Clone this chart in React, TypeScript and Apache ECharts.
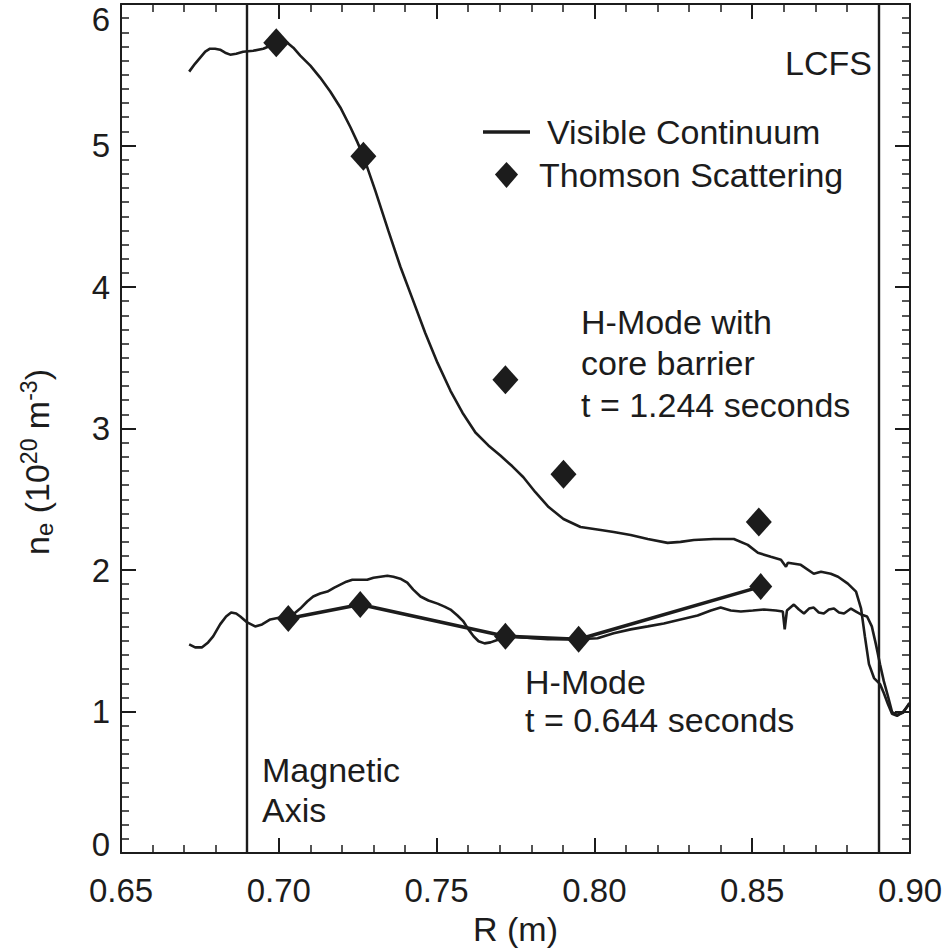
import React, { useEffect, useRef } from 'react';
import * as echarts from 'echarts';

const FONT = '"Liberation Sans", Arial, Helvetica, sans-serif';
const INK = '#1c1c1c';

// Axis ranges
const X_MIN = 0.65;
const X_MAX = 0.9;
const X_STEP = 0.05;
const Y_MIN = 0;
const Y_MAX = 6;
const Y_STEP = 1;

// Reference radii (m)
const MAGNETIC_AXIS_R = 0.6887;
const LCFS_R = 0.8908;

// Visible continuum, H-mode with core barrier, t = 1.244 s
const continuumCoreR = [
  0.6716, 0.6735, 0.6751, 0.6767, 0.6782, 0.6798, 0.6814, 0.683, 0.6846, 0.6865,
  0.6887, 0.6919, 0.6951, 0.6973, 0.6992, 0.7011, 0.7027, 0.7046, 0.7068, 0.71,
  0.7131, 0.7163, 0.7195, 0.7227, 0.7249, 0.7268, 0.7306, 0.7347, 0.7385, 0.7423,
  0.7464, 0.7503, 0.7544, 0.7582, 0.7623, 0.7664, 0.7702, 0.774, 0.7775, 0.7813,
  0.7855, 0.7902, 0.7956, 0.802, 0.8061, 0.8115, 0.8169, 0.8232, 0.8273, 0.8315,
  0.8378, 0.8442, 0.8486, 0.8518, 0.8559, 0.8591, 0.8607, 0.8613, 0.8654, 0.8695,
  0.8718, 0.8749, 0.8772, 0.8803, 0.8829, 0.8845, 0.8857, 0.887, 0.8886, 0.8905,
  0.8917, 0.893, 0.8943, 0.8959, 0.8978, 0.8998,
];
const continuumCoreNe = [
  5.522, 5.579, 5.621, 5.663, 5.684, 5.684, 5.677, 5.656, 5.642, 5.649,
  5.663, 5.67, 5.684, 5.705, 5.719, 5.733, 5.726, 5.691, 5.635, 5.565,
  5.48, 5.382, 5.269, 5.129, 5.024, 4.925, 4.679, 4.398, 4.145, 3.92,
  3.675, 3.464, 3.267, 3.112, 2.972, 2.881, 2.81, 2.733, 2.656, 2.55,
  2.445, 2.361, 2.304, 2.283, 2.269, 2.248, 2.22, 2.192, 2.199, 2.213,
  2.22, 2.22, 2.178, 2.122, 2.094, 2.073, 2.023, 2.052, 2.037, 1.974,
  1.988, 1.974, 1.953, 1.904, 1.848, 1.728, 1.532, 1.335, 1.237, 1.194,
  1.131, 1.054, 0.984, 0.97, 0.998, 1.054,
];

// Visible continuum, H-mode, t = 0.644 s
const continuumHModeR = [
  0.6716, 0.6735, 0.6757, 0.6776, 0.6792, 0.6814, 0.6833, 0.6849, 0.6865, 0.6878,
  0.69, 0.6925, 0.6947, 0.6973, 0.7004, 0.703, 0.7049, 0.7068, 0.709, 0.7109,
  0.7131, 0.7154, 0.7176, 0.7195, 0.7214, 0.7233, 0.7258, 0.728, 0.73, 0.7322,
  0.7344, 0.7363, 0.7385, 0.7407, 0.7426, 0.7449, 0.7474, 0.7503, 0.7525, 0.7544,
  0.7566, 0.7585, 0.7601, 0.7617, 0.7633, 0.7652, 0.7671, 0.769, 0.7712, 0.7734,
  0.7766, 0.7807, 0.7852, 0.7893, 0.795, 0.801, 0.8061, 0.8115, 0.8169, 0.822,
  0.8273, 0.8327, 0.8369, 0.84, 0.8432, 0.8464, 0.8502, 0.8537, 0.8575, 0.8597,
  0.8603, 0.861, 0.8632, 0.8648, 0.8664, 0.868, 0.8695, 0.8711, 0.8727, 0.8743,
  0.8759, 0.8775, 0.8791, 0.8813, 0.8829, 0.8845, 0.8864, 0.8879, 0.8892, 0.8905,
  0.8917, 0.893, 0.8943, 0.8959, 0.8978, 0.8998,
];
const continuumHModeNe = [
  1.475, 1.454, 1.454, 1.489, 1.532, 1.616, 1.672, 1.7, 1.693, 1.672,
  1.63, 1.602, 1.616, 1.651, 1.665, 1.665, 1.693, 1.728, 1.778, 1.813,
  1.834, 1.848, 1.876, 1.897, 1.918, 1.932, 1.932, 1.932, 1.946, 1.953,
  1.96, 1.953, 1.939, 1.911, 1.862, 1.813, 1.785, 1.763, 1.742, 1.721,
  1.679, 1.637, 1.581, 1.532, 1.497, 1.482, 1.489, 1.504, 1.525, 1.532,
  1.525, 1.518, 1.511, 1.511, 1.511, 1.518, 1.553, 1.581, 1.602, 1.623,
  1.651, 1.679, 1.714, 1.735, 1.714, 1.707, 1.714, 1.721, 1.714, 1.707,
  1.581, 1.714, 1.756, 1.721, 1.693, 1.728, 1.735, 1.7, 1.693, 1.721,
  1.728, 1.7, 1.693, 1.728, 1.707, 1.686, 1.672, 1.602, 1.475, 1.335,
  1.215, 1.11, 0.998, 0.977, 0.991, 1.061,
];

// Thomson scattering
const thomsonCoreR = [0.6992, 0.7268, 0.7718, 0.7902, 0.8521];
const thomsonCoreNe = [5.726, 4.925, 3.344, 2.677, 2.34];
const thomsonHModeR = [0.703, 0.7258, 0.7718, 0.795, 0.8527];
const thomsonHModeNe = [1.658, 1.756, 1.532, 1.511, 1.883];

const zip = (xs: number[], ys: number[]) => xs.map((x, i) => [x, ys[i]]);

const axisCommon = {
  axisLine: { show: true, onZero: false, lineStyle: { color: INK, width: 2 } },
  axisTick: { show: true, inside: true, length: 15, lineStyle: { color: INK, width: 2 } },
  minorTick: { show: true, length: 8, lineStyle: { color: INK, width: 1.5 } },
  splitLine: { show: false },
  minorSplitLine: { show: false },
};

const annotation = (text: string, x: number, baseline: number) => ({
  type: 'text',
  x,
  y: baseline - 12,
  silent: true,
  style: {
    text,
    fill: INK,
    fontSize: 34,
    fontFamily: FONT,
    align: 'left',
    verticalAlign: 'middle',
    textAlign: 'left',
    textVerticalAlign: 'middle',
  },
});

export default function App() {
  const ref = useRef<HTMLDivElement>(null);

  useEffect(() => {
    if (!ref.current) return;
    const chart = echarts.init(ref.current, undefined, { renderer: 'svg' });
    const option: any = {
      animation: false,
      backgroundColor: '#ffffff',
      grid: { left: 121, right: 38, top: 4, bottom: 93, containLabel: false },
      legend: {
        orient: 'vertical',
        left: 478,
        top: 110,
        itemWidth: 47,
        itemHeight: 26,
        itemGap: 9,
        selectedMode: false,
        symbolKeepAspect: true,
        textStyle: { fontSize: 34, color: INK, fontFamily: FONT },
        data: [
          {
            name: 'Visible Continuum',
            icon: 'path://M0,0 L47,0 L47,3.5 L0,3.5 Z',
            itemStyle: { color: INK },
            textStyle: { padding: [0, 0, 0, 12] },
          },
          {
            name: 'Thomson Scattering',
            icon: 'path://M12,0 L24,13 L12,27 L0,13 Z',
            itemStyle: { color: INK },
            textStyle: { padding: [0, 0, 0, 4] },
          },
        ],
      },
      xAxis: [
        {
          type: 'value',
          position: 'bottom',
          min: X_MIN,
          max: X_MAX,
          interval: X_STEP,
          ...axisCommon,
          minorTick: { ...axisCommon.minorTick, splitNumber: 5 },
          axisLabel: {
            margin: 21,
            fontSize: 33,
            color: INK,
            fontFamily: FONT,
            formatter: (v: number) => v.toFixed(2),
          },
          name: 'R (m)',
          nameLocation: 'middle',
          nameGap: 57,
          nameTextStyle: { fontSize: 34, color: INK, fontFamily: FONT },
        },
        {
          type: 'value',
          position: 'top',
          min: X_MIN,
          max: X_MAX,
          interval: X_STEP,
          ...axisCommon,
          minorTick: { ...axisCommon.minorTick, splitNumber: 5 },
          axisLabel: { show: false },
        },
      ],
      yAxis: [
        {
          type: 'value',
          position: 'left',
          min: Y_MIN,
          max: Y_MAX,
          interval: Y_STEP,
          ...axisCommon,
          minorTick: { ...axisCommon.minorTick, splitNumber: 10 },
          axisLabel: {
            margin: 11,
            fontSize: 33,
            color: INK,
            fontFamily: FONT,
            lineHeight: 18,
            padding: [6, 0, 0, 0],
            verticalAlignMaxLabel: 'top',
            verticalAlignMinLabel: 'bottom',
          },
        },
        {
          type: 'value',
          position: 'right',
          min: Y_MIN,
          max: Y_MAX,
          interval: Y_STEP,
          ...axisCommon,
          minorTick: { ...axisCommon.minorTick, splitNumber: 10 },
          axisLabel: { show: false },
        },
      ],
      graphic: [
        {
          type: 'text',
          x: 37,
          y: 462,
          rotation: Math.PI / 2,
          silent: true,
          style: {
            text: '{m|n}{s|e}{m| (10}{p|20}{m| m}{p|-3}{m|)}',
            fill: INK,
            fontSize: 34,
            fontFamily: FONT,
            align: 'center',
            verticalAlign: 'middle',
            textAlign: 'center',
            textVerticalAlign: 'middle',
            rich: {
              m: { fontSize: 34, fontFamily: FONT, fill: INK },
              s: { fontSize: 24, fontFamily: FONT, fill: INK, padding: [14, 0, 0, 0] },
              p: { fontSize: 23, fontFamily: FONT, fill: INK, padding: [0, 0, 16, 0] },
            },
          },
        },
        annotation('LCFS', 785, 75),
        annotation('H-Mode with', 581, 334),
        annotation('core barrier', 581, 375),
        annotation('t = 1.244 seconds', 581, 417),
        annotation('H-Mode', 525, 694),
        annotation('t = 0.644 seconds', 525, 732),
        annotation('Magnetic', 262, 782),
        annotation('Axis', 262, 822),
      ],
      series: [
        {
          name: 'Visible Continuum',
          type: 'line',
          data: zip(continuumCoreR, continuumCoreNe),
          symbol: 'none',
          showSymbol: false,
          lineStyle: { color: INK, width: 2.6 },
          itemStyle: { color: INK },
          z: 3,
          markLine: {
            silent: true,
            symbol: ['none', 'none'],
            label: { show: false },
            lineStyle: { color: INK, width: 2.4, type: 'solid' },
            emphasis: { disabled: true },
            data: [{ xAxis: MAGNETIC_AXIS_R }, { xAxis: LCFS_R }],
          },
        },
        {
          name: 'Visible Continuum',
          type: 'line',
          data: zip(continuumHModeR, continuumHModeNe),
          symbol: 'none',
          showSymbol: false,
          lineStyle: { color: INK, width: 2.6 },
          itemStyle: { color: INK },
          z: 3,
        },
        {
          name: 'Thomson Scattering',
          type: 'scatter',
          data: zip(thomsonCoreR, thomsonCoreNe),
          symbol: 'diamond',
          symbolSize: [26, 29],
          itemStyle: { color: INK, opacity: 1 },
          z: 4,
        },
        {
          name: 'Thomson Scattering',
          type: 'line',
          data: zip(thomsonHModeR, thomsonHModeNe),
          symbol: 'diamond',
          symbolSize: [23, 27],
          showSymbol: true,
          lineStyle: { color: INK, width: 3.6 },
          itemStyle: { color: INK, borderWidth: 0 },
          z: 4,
        },
      ],
    };
    chart.setOption(option);
    return () => chart.dispose();
  }, []);

  return (
    <div
      ref={ref}
      style={{ position: 'fixed', left: 0, top: 0, width: 948, height: 951, background: '#fff' }}
    />
  );
}
